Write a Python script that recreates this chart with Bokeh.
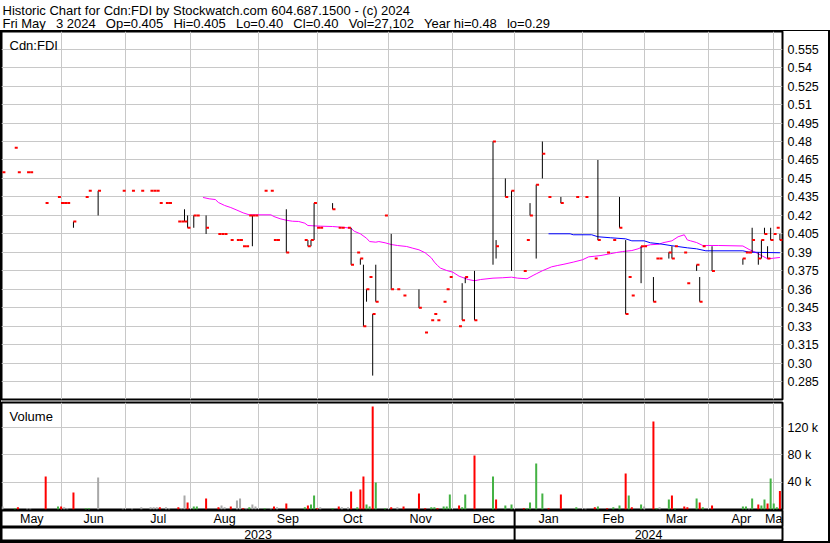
from bokeh.plotting import figure
from bokeh.models import ColumnDataSource, FixedTicker, Label, Span, Range1d
from bokeh.layouts import column
from bokeh.transform import dodge, factor_cmap
from bokeh.core.properties import value
from bokeh.embed import file_html
from bokeh.resources import INLINE

FONT = "Liberation Sans"

# ---------------- data (trading-session index since 3 May 2023) ----------------
days = [0,4,5,8,9,14,18,19,20,21,
        23,27,28,31,39,42,45,48,49,50,
        51,53,54,57,58,59,60,62,63,66,
        70,71,72,74,76,77,78,79,80,81,
        82,85,87,88,89,92,98,99,100,101,
        102,103,107,109,110,112,113,115,116,117,
        118,119,120,121,124,126,128,130,135,137,
        139,140,141,143,144,145,148,149,150,153,
        159,160,163,165,169,170,171,173,175,177,
        181,186,189,192,193,196,198,200,202,203,
        204,207,208,211,212,213,216,217,218,221,
        222,225,226,227,230,240,241,242,243,245,
        246,247,248,249,250,251,252]
highs = [0.455,0.475,0.455,0.455,0.455,0.43,0.435,0.43,0.43,0.43,
         0.415,0.435,0.44,0.44,0.44,0.44,0.44,0.44,0.44,0.44,
         0.43,0.43,0.43,0.415,0.415,0.425,0.42,0.42,0.42,0.42,
         0.405,0.405,0.405,0.40,0.40,0.40,0.395,0.395,0.42,0.42,
         0.42,0.44,0.44,0.40,0.40,0.425,0.40,0.40,0.40,0.43,
         0.41,0.41,0.43,0.41,0.41,0.41,0.41,0.39,0.385,0.38,
         0.36,0.37,0.34,0.38,0.42,0.405,0.36,0.355,0.36,0.325,
         0.335,0.34,0.335,0.35,0.36,0.37,0.33,0.365,0.37,0.375,
         0.48,0.40,0.45,0.44,0.375,0.40,0.43,0.445,0.48,0.435,
         0.435,0.435,0.435,0.385,0.465,0.39,0.40,0.435,0.40,0.37,
         0.355,0.395,0.395,0.37,0.385,0.385,0.39,0.395,0.395,0.39,
         0.365,0.38,0.37,0.395,0.395,0.385,0.39,0.39,0.41,0.39,
         0.40,0.41,0.395,0.41,0.405,0.41,0.405]
lows = [0.455,0.475,0.455,0.455,0.455,0.43,0.435,0.43,0.43,0.43,
        0.41,0.435,0.44,0.42,0.44,0.44,0.44,0.44,0.44,0.44,
        0.43,0.43,0.43,0.415,0.415,0.415,0.41,0.41,0.42,0.405,
        0.405,0.405,0.405,0.40,0.40,0.40,0.395,0.395,0.42,0.395,
        0.42,0.44,0.44,0.40,0.40,0.39,0.40,0.395,0.395,0.40,
        0.41,0.41,0.425,0.41,0.41,0.41,0.38,0.39,0.38,0.33,
        0.35,0.37,0.29,0.35,0.42,0.36,0.36,0.355,0.345,0.325,
        0.335,0.34,0.335,0.35,0.36,0.37,0.33,0.335,0.365,0.335,
        0.38,0.385,0.435,0.375,0.375,0.40,0.42,0.385,0.45,0.435,
        0.43,0.435,0.435,0.385,0.40,0.39,0.40,0.41,0.34,0.37,
        0.355,0.365,0.395,0.35,0.385,0.385,0.385,0.385,0.395,0.39,
        0.365,0.375,0.35,0.395,0.375,0.38,0.39,0.39,0.39,0.38,
        0.385,0.405,0.385,0.40,0.405,0.41,0.40]
closes = [0.455,0.475,0.455,0.455,0.455,0.43,0.435,0.43,0.43,0.43,
          0.415,0.435,0.44,0.44,0.44,0.44,0.44,0.44,0.44,0.44,
          0.43,0.43,0.43,0.415,0.415,0.415,0.41,0.42,0.42,0.41,
          0.405,0.405,0.405,0.40,0.40,0.40,0.395,0.395,0.42,0.42,
          0.42,0.44,0.44,0.40,0.40,0.39,0.40,0.395,0.40,0.43,
          0.41,0.41,0.425,0.41,0.41,0.41,0.38,0.39,0.385,0.33,
          0.36,0.37,0.34,0.35,0.42,0.36,0.36,0.355,0.345,0.325,
          0.335,0.34,0.335,0.35,0.36,0.37,0.33,0.335,0.37,0.335,
          0.48,0.395,0.435,0.44,0.375,0.40,0.42,0.445,0.47,0.435,
          0.43,0.435,0.435,0.385,0.40,0.39,0.40,0.41,0.34,0.37,
          0.355,0.395,0.395,0.35,0.385,0.385,0.39,0.385,0.395,0.39,
          0.365,0.38,0.35,0.395,0.375,0.385,0.39,0.39,0.40,0.385,
          0.40,0.405,0.385,0.40,0.405,0.41,0.40]
volumes = [4400,1900,3400,1900,1900,48300,4400,4400,3400,1900,
           24900,1900,1900,46900,1900,1900,3400,3400,3400,3400,
           3400,3400,1900,3400,1900,20500,10300,4400,4400,16100,
           3400,5900,3400,4400,13200,16100,1900,1900,3400,7300,
           4400,1900,1900,4400,3400,8800,3400,5900,7300,20500,
           1900,3400,1900,4400,3400,3400,26400,3400,29300,48300,
           7300,4400,151000,39600,1900,3400,3400,4400,23400,1900,
           3400,3400,1900,4400,4400,22000,5900,3400,22000,79100,
           48300,14600,5900,7300,1900,1900,10300,67400,23400,1900,
           22000,3400,1900,3400,4400,1900,3400,5900,52700,20500,
           3400,7300,4400,128900,1900,3400,14600,20500,1900,4400,
           3400,16100,10300,3400,5900,4400,4400,1900,16100,7300,
           5900,14600,8800,45400,8800,3400,27102]
moves = ["flat","up","down","flat","flat","down","up","down","flat","flat",
         "down","up","up","flat","flat","flat","flat","flat","flat","flat",
         "down","flat","flat","down","flat","flat","down","up","up","down",
         "down","flat","flat","down","flat","flat","down","flat","up","flat",
         "flat","up","flat","down","flat","down","up","down","up","up",
         "down","flat","up","down","flat","flat","down","up","down","down",
         "up","up","down","up","up","down","flat","down","down","down",
         "up","up","down","up","up","up","down","up","up","down",
         "up","down","up","up","down","up","up","up","up","down",
         "down","up","flat","down","up","down","up","up","down","up",
         "down","up","flat","down","up","flat","up","down","up","down",
         "down","up","down","up","down","up","up","flat","up","down",
         "up","up","down","up","up","up","down"]

# moving averages
ma_short_days = [65,67,69,70,72,74,76,78,80,87,88,90,92,94,96,98,99,103,107,111,113,114,116,118,119,
                 121,122,124,126,128,131,133,135,137,139,140,141,142,144,146,148,151,153,155,159,162,
                 165,167,170,172,173,175,178,180,182,185,188,190,192,194,197,199,201,204,206,208,210,
                 213,214,217,219,221,222,223,225,227,232,240,242,244,246,248,250,252]
ma_short_vals = [0.4346,0.4335,0.4329,0.4305,0.4281,0.4264,0.4243,0.4221,0.4205,0.4205,0.4191,0.4173,
                 0.4161,0.4153,0.4151,0.4137,0.4118,0.4113,0.4110,0.4102,0.4096,0.4072,0.4051,0.4015,
                 0.3988,0.3983,0.3988,0.3978,0.3964,0.3956,0.3948,0.3934,0.3921,0.3897,0.3856,0.3821,
                 0.3794,0.3772,0.3753,0.3739,0.3707,0.3680,0.3670,0.3680,0.3691,0.3694,0.3699,0.3691,
                 0.3686,0.3713,0.3726,0.3751,0.3783,0.3794,0.3804,0.3821,0.3840,0.3864,0.3869,0.3875,
                 0.3889,0.3899,0.3907,0.3915,0.3929,0.3950,0.3962,0.3967,0.3978,0.3994,0.4027,0.4043,
                 0.4001,0.3994,0.3980,0.3956,0.3956,0.3952,0.3924,0.3902,0.3875,0.3848,0.3853,0.3859]
ma_long_days = [177,184,185,191,193,197,202,204,208,210,213,217,222,225,228,240,242,252]
ma_long_vals = [0.4051,0.4051,0.4043,0.4043,0.4027,0.4019,0.4010,0.3994,0.3994,0.3978,0.3970,0.3954,
                0.3937,0.3929,0.3913,0.3913,0.3902,0.3897]

# axes
price_tick_labels = ["0.285","0.30","0.315","0.33","0.345","0.36","0.375","0.39","0.405","0.42",
                     "0.435","0.45","0.465","0.48","0.495","0.51","0.525","0.54","0.555"]
vol_ticks = [40000, 80000, 120000]
vol_tick_labels = ["40 k", "80 k", "120 k"]
month_names = ["May","Jun","Jul","Aug","Sep","Oct","Nov","Dec","Jan","Feb","Mar","Apr","May"]
month_starts = [0,19,40,61,83,102,125,146,166,188,208,229,250]
year_names = ["2023", "2024"]
year_starts = [0, 166]
last_day = 252

GAP = "\u2002 "
header_1 = "Historic Chart for Cdn:FDI by Stockwatch.com 604.687.1500 - (c) 2024"
header_2 = GAP.join(["Fri May", "3 2024", "Op=0.405", "Hi=0.405", "Lo=0.40", "Cl=0.40",
                     "Vol=27,102", "Year hi=0.48", "lo=0.29"])

# ---------------- figures ----------------
W = 827          # figure width inside the outer border
RB = 46          # space right of the plotting frame (axis labels)
x_rng = Range1d(-0.324, 252.84)
GRID = "#c8c8c8"
RED, GREEN, GRAY = "#ff0000", "#44b244", "#a8a8a8"

src = ColumnDataSource(dict(day=days, high=highs, low=lows, close=closes, vol=volumes, move=moves))


def panel(h, top, bottom, y_rng, with_axis=True):
    p = figure(width=W, height=h, x_range=x_rng, y_range=y_rng, output_backend="svg",
               toolbar_location=None, x_axis_location=None,
               y_axis_location="right" if with_axis else None,
               min_border_left=0, min_border_right=RB, min_border_top=top, min_border_bottom=bottom)
    p.outline_line_color = "black"
    p.outline_line_width = 2
    p.outline_line_alpha = 1
    p.background_fill_color = "white"
    p.border_fill_color = "white"
    p.xgrid.ticker = FixedTicker(ticks=month_starts[1:])
    p.xgrid.grid_line_color = GRID
    p.ygrid.grid_line_color = GRID
    if with_axis:
        ax = p.yaxis[0]
        ax.axis_line_color = None
        ax.major_tick_line_color = None
        ax.minor_tick_line_color = None
        ax.major_tick_out = 0
        ax.major_tick_in = 0
        ax.major_label_standoff = 5
        ax.major_label_text_font = FONT
        ax.major_label_text_font_size = "12.5px"
        ax.major_label_text_color = "black"
    return p


# price panel
price = panel(370, 0, 2, Range1d(0.2706, 0.5693))
price_ticks = [float(s) for s in price_tick_labels]
price.yaxis.ticker = FixedTicker(ticks=price_ticks)
price.yaxis.major_label_overrides = {t: s for t, s in zip(price_ticks, price_tick_labels)}

price.line(ma_short_days, ma_short_vals, line_color="#ff00ff", line_width=1)
price.line(ma_long_days, ma_long_vals, line_color="#0000ff", line_width=1)
price.segment(x0="day", y0="low", x1="day", y1="high", source=src, line_color="black", line_width=1)
price.rect(x=dodge("day", 0.45, range=x_rng), y="close", width=3, height=2,
           width_units="screen", height_units="screen", source=src,
           fill_color=RED, line_color=None)
price.add_layout(Label(x=8, y=354, x_units="screen", y_units="screen", text="Cdn:FDI",
                       text_font=FONT, text_font_size="13px", text_color="black",
                       text_baseline="alphabetic"))

# volume panel
vol = panel(109, 1, 1, Range1d(0, 156800))
vol.yaxis.ticker = FixedTicker(ticks=vol_ticks)
vol.yaxis.major_label_overrides = {t: s for t, s in zip(vol_ticks, vol_tick_labels)}
vol.vbar(x="day", top="vol", width=0.65, source=src, line_color=None,
         fill_color=factor_cmap("move", palette=[GREEN, RED, GRAY], factors=["up", "down", "flat"]))
vol.add_layout(Label(x=8, y=93, x_units="screen", y_units="screen", text="Volume",
                     text_font=FONT, text_font_size="13px", text_color="black",
                     text_baseline="alphabetic"))

# month row
bounds = month_starts + [last_day]
month_centers = [(a + b) / 2 for a, b in zip(bounds[:-1], bounds[1:])]
months = panel(17, 0, 0, Range1d(0, 1), with_axis=False)
months.grid.visible = False
months.text(x=month_centers, y=0.5, text=month_names, text_align="center", text_baseline="middle",
            text_font=value(FONT), text_font_size="12.5px", text_color="black")
months.add_layout(Span(location=year_starts[1], dimension="height", line_color="black", line_width=2))

# year row
ybounds = [x_rng.start] + year_starts[1:] + [x_rng.end]
year_centers = [(a + b) / 2 for a, b in zip(ybounds[:-1], ybounds[1:])]
years = panel(14, 0, 0, Range1d(0, 1), with_axis=False)
years.grid.visible = False
years.text(x=year_centers, y=0.5, text=year_names, text_align="center", text_baseline="middle",
           text_font=value(FONT), text_font_size="12.5px", text_color="black")
years.add_layout(Span(location=year_starts[1], dimension="height", line_color="black", line_width=2))

# header
header = figure(width=830, height=30, x_range=Range1d(0, 1), y_range=Range1d(0, 1),
                output_backend="svg", toolbar_location=None, x_axis_location=None,
                y_axis_location=None, min_border=0)
header.outline_line_color = None
header.grid.visible = False
header.border_fill_color = "white"
header.add_layout(Label(x=2, y=19.8, x_units="screen", y_units="screen", text=header_1,
                        text_font=FONT, text_font_size="13px", text_color="black",
                        text_baseline="alphabetic"))
header.add_layout(Label(x=2, y=6.8, x_units="screen", y_units="screen", text=header_2,
                        text_font=FONT, text_font_size="13px", text_color="black",
                        text_baseline="alphabetic"))

body = column(price, vol, months, years,
              styles={"border-left": "1px solid black", "border-top": "1px solid black",
                      "border-right": "2px solid black", "border-bottom": "2px solid black"})
layout = column(header, body)

open("out.html", "w").write(file_html(layout, INLINE))
